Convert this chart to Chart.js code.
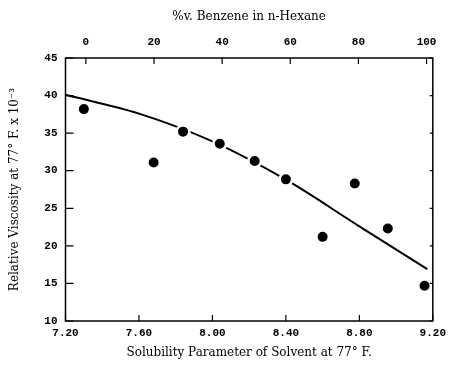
<!DOCTYPE html>
<html>
<head>
<meta charset="utf-8">
<script src="https://cdn.jsdelivr.net/npm/chart.js@4"></script>
<style>
  html, body { margin: 0; padding: 0; background: #fff; }
  #wrap { width: 452px; height: 371px; }
</style>
</head>
<body>
<div id="wrap"><canvas id="viscChart"></canvas></div>
<script>
// Measured points: solubility parameter vs relative viscosity (x 10^-3)
const solubility = [7.30, 7.68, 7.84, 8.04, 8.23, 8.40, 8.60, 8.775, 8.955, 9.155];
const viscosity = [38.2, 31.1, 35.2, 33.6, 31.3, 28.85, 21.2, 28.3, 22.3, 14.7];

// Smoothed curve drawn through the data
const curveX = [7.20, 7.60, 8.00, 8.40, 8.80, 9.17];
const curveY = [40.1, 37.6, 33.9, 28.8, 22.6, 16.9];

// Axis ticks
const xTicks = [7.20, 7.60, 8.00, 8.40, 8.80, 9.20];
const yTicks = [10, 15, 20, 25, 30, 35, 40, 45];
const pctTicks = [0, 20, 40, 60, 80, 100];

// %v benzene 0 and 100 sit at these solubility values
const pctZeroAt = 7.311;
const pctFullAt = 9.166;
const pctPerUnit = 100 / (pctFullAt - pctZeroAt);

const tickFont = { family: '"Liberation Mono", monospace', size: 11, weight: 'bold' };
const titleFont = { family: '"DejaVu Serif", serif', size: 12 };

// Box around the plot and inward tick marks
const framePlugin = {
  id: 'frame',
  afterDraw(chart) {
    const { ctx, chartArea: a, scales } = chart;
    ctx.save();
    ctx.strokeStyle = '#000';
    ctx.lineWidth = 1.5;
    ctx.strokeRect(a.left, a.top, a.right - a.left, a.bottom - a.top);
    ctx.lineWidth = 1.2;
    ctx.beginPath();
    xTicks.forEach(v => {
      const px = scales.x.getPixelForValue(v);
      ctx.moveTo(px, a.bottom);
      ctx.lineTo(px, a.bottom - 6);
    });
    pctTicks.forEach(v => {
      const px = scales.x2.getPixelForValue(v);
      ctx.moveTo(px, a.top);
      ctx.lineTo(px, a.top + 6);
    });
    yTicks.forEach(v => {
      const py = scales.y.getPixelForValue(v);
      ctx.moveTo(a.left, py);
      ctx.lineTo(a.left + 8, py);
      ctx.moveTo(a.right, py);
      ctx.lineTo(a.right - 3, py);
    });
    ctx.stroke();
    ctx.restore();
  }
};

function initializeChart() {
  const ctx = document.getElementById('viscChart').getContext('2d');
  new Chart(ctx, {
    type: 'scatter',
    data: {
      datasets: [
        {
          label: 'Data',
          data: solubility.map((x, i) => ({ x: x, y: viscosity[i] })),
          pointRadius: 6.3,
          pointBackgroundColor: '#000',
          pointBorderColor: '#fff',
          pointBorderWidth: 2.6,
          showLine: false,
          order: 0
        },
        {
          label: 'Curve',
          type: 'line',
          data: curveX.map((x, i) => ({ x: x, y: curveY[i] })),
          borderColor: '#000',
          borderWidth: 2,
          pointRadius: 0,
          cubicInterpolationMode: 'monotone',
          fill: false,
          order: 1
        }
      ]
    },
    options: {
      responsive: true,
      maintainAspectRatio: false,
      animation: false,
      layout: { padding: { left: 0, right: 9, top: 0, bottom: 0 } },
      plugins: {
        legend: { display: false },
        tooltip: { enabled: false }
      },
      scales: {
        x: {
          type: 'linear',
          position: 'bottom',
          min: 7.2,
          max: 9.2,
          afterBuildTicks: s => { s.ticks = xTicks.map(v => ({ value: v })); },
          afterFit: s => { s.height = 50; },
          grid: { display: false, drawTicks: false },
          border: { display: false },
          ticks: {
            color: '#000',
            font: tickFont,
            padding: 6,
            maxRotation: 0,
            callback: v => v.toFixed(2)
          },
          title: {
            display: true,
            text: 'Solubility Parameter of Solvent at 77° F.',
            color: '#000',
            font: titleFont,
            padding: { top: 0, bottom: 11 }
          }
        },
        x2: {
          type: 'linear',
          position: 'top',
          min: (7.2 - pctZeroAt) * pctPerUnit,
          max: (9.2 - pctZeroAt) * pctPerUnit,
          afterBuildTicks: s => { s.ticks = pctTicks.map(v => ({ value: v })); },
          afterFit: s => { s.height = 58; },
          grid: { display: false, drawTicks: false },
          border: { display: false },
          ticks: { color: '#000', font: tickFont, padding: 9, maxRotation: 0 },
          title: {
            display: true,
            text: '%v. Benzene in n-Hexane',
            color: '#000',
            font: titleFont,
            padding: { top: 10, bottom: 0 }
          }
        },
        y: {
          type: 'linear',
          position: 'left',
          min: 10,
          max: 45,
          afterBuildTicks: s => { s.ticks = yTicks.map(v => ({ value: v })); },
          afterFit: s => { s.width = 65.5; },
          grid: { display: false, drawTicks: false },
          border: { display: false },
          ticks: { color: '#000', font: tickFont, padding: 8 },
          title: {
            display: true,
            text: 'Relative Viscosity at 77° F. x 10⁻³',
            color: '#000',
            font: titleFont,
            padding: { top: 8, bottom: 0 }
          }
        }
      }
    },
    plugins: [framePlugin]
  });
}

document.addEventListener('DOMContentLoaded', () => {
  initializeChart();
});
</script>
</body>
</html>
